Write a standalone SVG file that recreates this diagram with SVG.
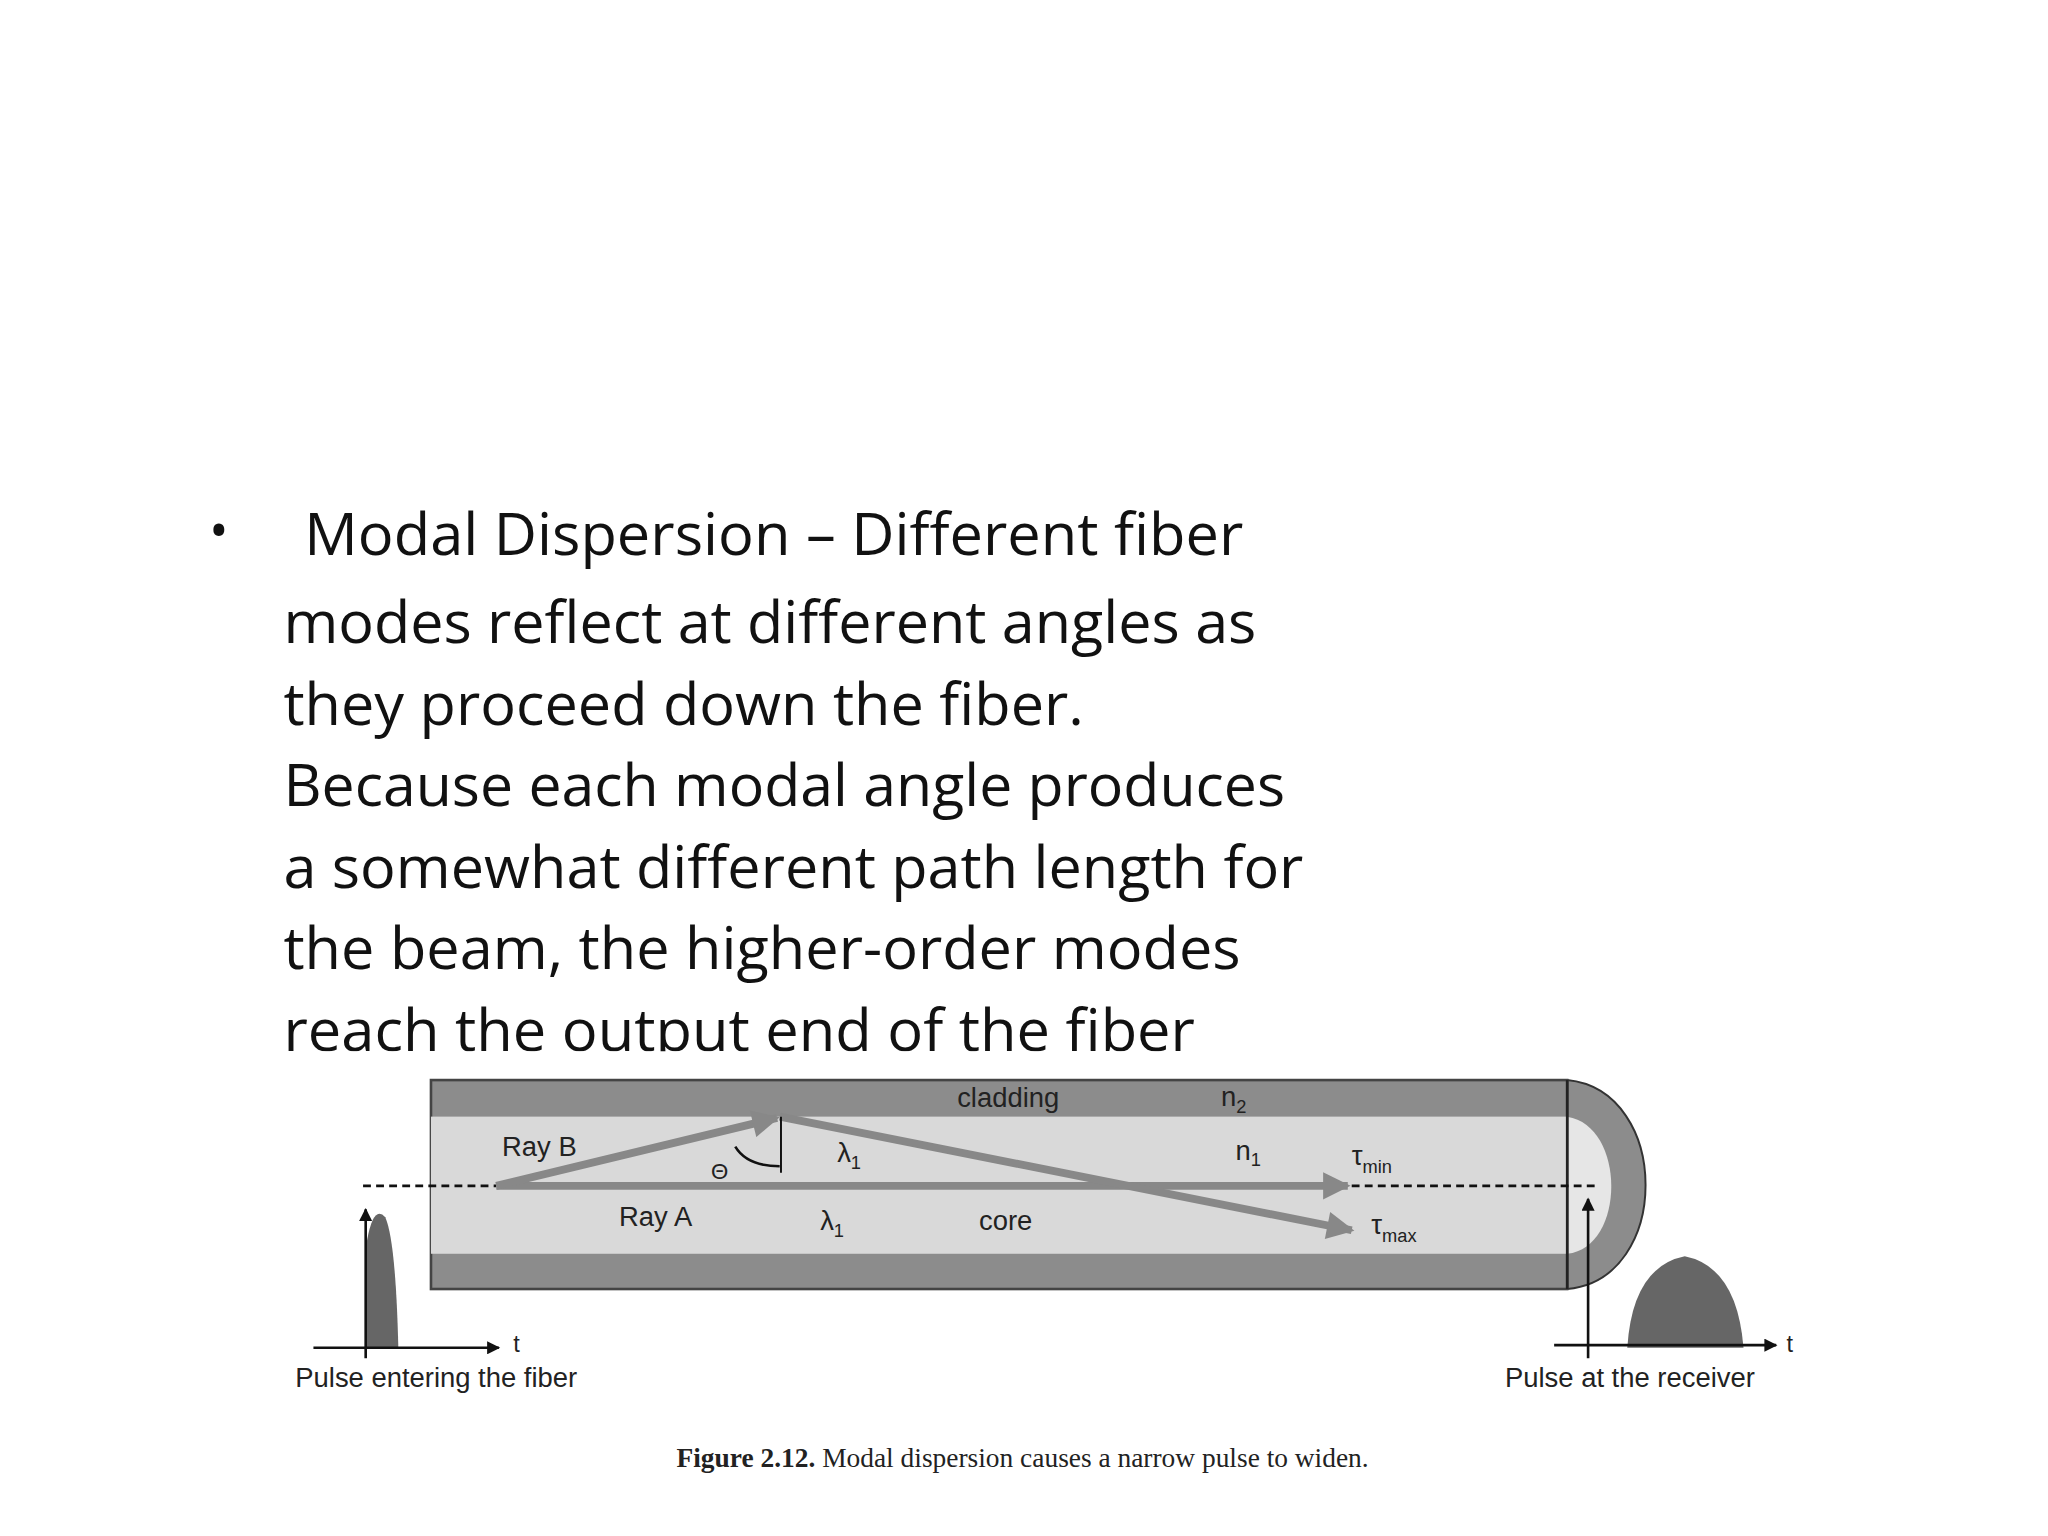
<svg xmlns="http://www.w3.org/2000/svg" width="2048" height="1536" viewBox="0 0 2048 1536">
<style>
.b{font-family:"Open Sans","Liberation Sans",sans-serif;font-size:45px;fill:#111}
.d{font-family:"Liberation Sans",Arial,sans-serif;font-size:21px;fill:#222}
.s{font-size:14px}
.ray{stroke:#888;stroke-width:6;fill:none}
.ax{stroke:#111;stroke-width:2;fill:none}
</style>
<defs>
<marker id="ra" viewBox="0 0 10 10" refX="9" refY="5" markerWidth="4" markerHeight="3.5" orient="auto" markerUnits="strokeWidth"><path d="M0,0L10,5L0,10z" fill="#888"/></marker>
<marker id="ka" viewBox="0 0 10 10" refX="9" refY="5" markerWidth="6" markerHeight="5" orient="auto" markerUnits="strokeWidth"><path d="M0,0L10,5L0,10z" fill="#111"/></marker>
<clipPath id="cl"><rect x="0" y="0" width="1200" height="805"/></clipPath>
</defs>
<rect width="2048" height="1536" fill="#fff"/>
<g transform="scale(1.306)">
<g id="bullet-text" clip-path="url(#cl)">
<text class="b" x="160" y="420" style="font-size:40px">•</text>
<text class="b" x="233" y="425" textLength="719" lengthAdjust="spacingAndGlyphs">Modal Dispersion – Different fiber</text>
<text class="b" x="217" y="492" textLength="745" lengthAdjust="spacingAndGlyphs">modes reflect at different angles as</text>
<text class="b" x="217" y="555" textLength="613" lengthAdjust="spacingAndGlyphs">they proceed down the fiber.</text>
<text class="b" x="217" y="617" textLength="767" lengthAdjust="spacingAndGlyphs">Because each modal angle produces</text>
<text class="b" x="217" y="680" textLength="781" lengthAdjust="spacingAndGlyphs">a somewhat different path length for</text>
<text class="b" x="217" y="742" textLength="733" lengthAdjust="spacingAndGlyphs">the beam, the higher-order modes</text>
<text class="b" x="217" y="805" textLength="698" lengthAdjust="spacingAndGlyphs">reach the output end of the fiber</text>
</g>
<g id="fiber">
<path d="M1200,827 C1280,835 1280,980 1200,987 Z" fill="#8c8c8c" stroke="#333" stroke-width="1.5"/>
<path d="M1200,855 C1245,862 1245,955 1200,960 Z" fill="#e6e6e6"/>
<rect x="330" y="827" width="870" height="160" fill="#8c8c8c" stroke="#444" stroke-width="2"/>
<rect x="330" y="855" width="870" height="105" fill="#d9d9d9"/>
<line x1="1200" y1="827" x2="1200" y2="987" stroke="#222" stroke-width="2"/>
</g>
<g id="connectors">
<line x1="278" y1="908" x2="380" y2="908" stroke="#111" stroke-width="2" stroke-dasharray="6,4"/>
<line x1="1035" y1="908" x2="1225" y2="908" stroke="#111" stroke-width="2" stroke-dasharray="6,4"/>
<line class="ray" x1="380" y1="908" x2="1032" y2="908" marker-end="url(#ra)"/>
<line class="ray" x1="380" y1="908" x2="595" y2="856" marker-end="url(#ra)"/>
<line class="ray" x1="597" y1="855" x2="1035" y2="942" marker-end="url(#ra)"/>
<line x1="598" y1="855" x2="598" y2="898" stroke="#111" stroke-width="1.5"/>
<path d="M563,878 Q572,893 597,893" class="ax" stroke-width="1.5"/>
</g>
<g id="labels" class="d">
<text x="772" y="848" text-anchor="middle">cladding</text>
<text x="935" y="847">n<tspan class="s" dy="5">2</tspan></text>
<text x="413" y="885" text-anchor="middle">Ray B</text>
<text x="551" y="903" text-anchor="middle" style="font-size:17px">Θ</text>
<text x="641" y="890">λ<tspan class="s" dy="5">1</tspan></text>
<text x="946" y="888">n<tspan class="s" dy="5">1</tspan></text>
<text x="1035" y="892">τ<tspan class="s" dy="6">min</tspan></text>
<text x="502" y="939" text-anchor="middle">Ray A</text>
<text x="628" y="942">λ<tspan class="s" dy="5">1</tspan></text>
<text x="770" y="942" text-anchor="middle">core</text>
<text x="1050" y="945">τ<tspan class="s" dy="6">max</tspan></text>
</g>
<g id="pulse-in">
<path d="M281,1032 L281,950 Q286,922 295,932 Q303,950 305,1032 Z" fill="#666"/>
<line class="ax" x1="280" y1="1040" x2="280" y2="926" marker-end="url(#ka)"/>
<line class="ax" x1="240" y1="1032" x2="382" y2="1032" marker-end="url(#ka)"/>
<text class="d" x="393" y="1035" style="font-size:18px">t</text>
<text class="d" x="334" y="1062" text-anchor="middle">Pulse entering the fiber</text>
</g>
<g id="pulse-out">
<path d="M1246,1032 Q1250,970 1290,962 Q1330,970 1335,1032 Z" fill="#666"/>
<line class="ax" x1="1216" y1="1040" x2="1216" y2="918" marker-end="url(#ka)"/>
<line class="ax" x1="1190" y1="1030" x2="1360" y2="1030" marker-end="url(#ka)"/>
<text class="d" x="1368" y="1035" style="font-size:18px">t</text>
<text class="d" x="1248" y="1062" text-anchor="middle">Pulse at the receiver</text>
</g>
<g id="caption">
<text x="783" y="1123" text-anchor="middle" style="font-family:'Liberation Serif',serif;font-size:21px;fill:#222"><tspan font-weight="bold">Figure 2.12.</tspan>  Modal dispersion causes a narrow pulse to widen.</text>
</g>
</g>
</svg>
